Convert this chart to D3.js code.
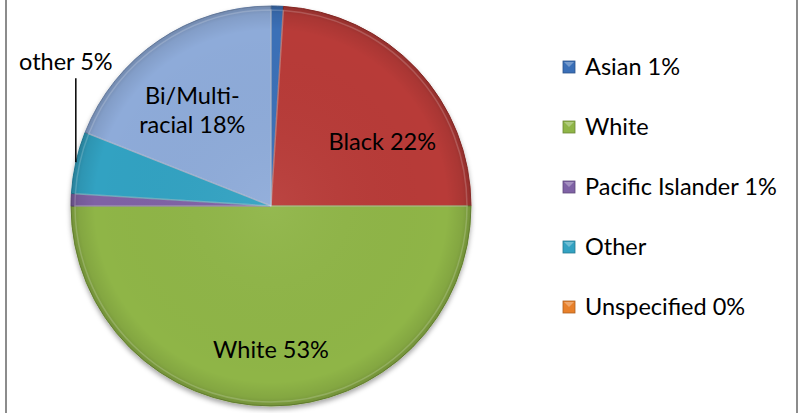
<html>
  <head>
    <script src="https://cdnjs.cloudflare.com/ajax/libs/d3/7.8.5/d3.min.js"></script>
  </head>
  <body>
    <svg id="pie"></svg>

    <style>
      body {
        margin: 0;
        background: #fff;
      }
      #pie {
        display: block;
        font-family: 'Lato', 'Open Sans', sans-serif;
      }
    </style>

    <script>
      // Data, clockwise from 12 o'clock
      const categories = ['Asian', 'Black', 'White', 'Pacific Islander', 'Other', 'Unspecified', 'Bi/Multi-racial'];
      const values = [1, 24, 50, 1, 5, 0, 19];
      const colors = ['#3a6fb7', '#b83b37', '#8fb547', '#7f62a5', '#33a2c2', '#e8802a', '#8eabd9'];

      // Labels drawn on the slices (empty = none)
      const sliceLabels = [[], ['Black 22%'], ['White 53%'], [], ['other 5%'], [], ['Bi/Multi-', 'racial 18%']];
      // Legend entries (null = removed from legend)
      const legendLabels = ['Asian 1%', null, 'White', 'Pacific Islander 1%', 'Other', 'Unspecified 0%', null];

      const width = 798, height = 413;
      const cx = 271, cy = 206, radius = 200;
      const fontSize = 23.5;

      const svg = d3.select('#pie')
        .attr('width', width)
        .attr('height', height);

      // chart area border (only the sides show)
      svg.append('line').attr('x1', 6).attr('x2', 6).attr('y1', 0).attr('y2', height)
        .style('stroke', '#8c8c8c').style('stroke-width', 2);
      svg.append('line').attr('x1', 797).attr('x2', 797).attr('y1', 0).attr('y2', height)
        .style('stroke', '#8c8c8c').style('stroke-width', 2);

      const defs = svg.append('defs');

      const shadow = defs.append('filter').attr('id', 'shadow')
        .attr('x', '-10%').attr('y', '-10%').attr('width', '120%').attr('height', '120%');
      shadow.append('feDropShadow')
        .attr('dx', 0).attr('dy', 3).attr('stdDeviation', 2.5)
        .attr('flood-color', '#000').attr('flood-opacity', 0.35);

      // rim shading to imitate the bevel (chart-centred coords)
      const rim = defs.append('radialGradient').attr('id', 'rim')
        .attr('gradientUnits', 'userSpaceOnUse')
        .attr('cx', 0).attr('cy', 0).attr('r', radius);
      rim.append('stop').attr('offset', '0%').attr('stop-color', '#fff').attr('stop-opacity', 0.05);
      rim.append('stop').attr('offset', '88%').attr('stop-color', '#000').attr('stop-opacity', 0);
      rim.append('stop').attr('offset', '96%').attr('stop-color', '#000').attr('stop-opacity', 0.08);
      rim.append('stop').attr('offset', '100%').attr('stop-color', '#000').attr('stop-opacity', 0.2);

      const data = categories.map((c, i) => ({
        name: c,
        value: values[i],
        color: colors[i],
        label: sliceLabels[i],
        legend: legendLabels[i]
      }));

      const pie = d3.pie()
        .sort(null)
        .value(d => d.value);

      const arc = d3.arc()
        .innerRadius(0)
        .outerRadius(radius);

      const arcs = pie(data).filter(d => d.value > 0);

      const g = svg.append('g')
        .attr('transform', 'translate(' + cx + ',' + cy + ')');

      const slices = g.append('g').attr('filter', 'url(#shadow)');

      slices.selectAll('path.slice')
        .data(arcs)
        .enter().append('path')
        .attr('class', 'slice')
        .attr('d', arc)
        .style('fill', d => d.data.color)
        .style('stroke', d => d3.color(d.data.color).darker(0.6))
        .style('stroke-width', 1);

      // overlay for the bevelled look
      g.append('g').selectAll('path')
        .data(arcs)
        .enter().append('path')
        .attr('d', arc)
        .style('fill', 'url(#rim)');

      // inner highlight along the slice edges
      const innerArc = d3.arc().innerRadius(0).outerRadius(radius - 4);
      g.append('g').selectAll('path')
        .data(arcs)
        .enter().append('path')
        .attr('d', innerArc)
        .style('fill', 'none')
        .style('stroke', '#fff')
        .style('stroke-opacity', 0.18)
        .style('stroke-width', 1.5);

      // labels
      const labelLayout = {
        'Black': { r: 0.64, nudge: [18, 24] },
        'White': { r: 0.72, nudge: [0, 0] },
        'Bi/Multi-racial': { r: 0.62, nudge: [-9, 7] }
      };

      arcs.forEach(d => {
        if (!d.data.label.length) return;
        const mid = (d.startAngle + d.endAngle) / 2;

        if (d.data.name === 'Other') {
          // outside label with a leader line going straight up
          const ex = Math.sin(mid) * radius, ey = -Math.cos(mid) * radius;
          g.append('line')
            .attr('x1', ex).attr('y1', ey)
            .attr('x2', ex).attr('y2', ey - 84)
            .style('stroke', '#000').style('stroke-width', 1.5);
          g.append('text')
            .attr('x', ex - 10).attr('y', ey - 92)
            .attr('text-anchor', 'middle')
            .style('font-size', fontSize + 'px')
            .style('fill', '#000')
            .text(d.data.label[0]);
          return;
        }

        const lay = labelLayout[d.data.name];
        const r = radius * lay.r;
        const x = Math.sin(mid) * r + lay.nudge[0];
        const y = -Math.cos(mid) * r + lay.nudge[1];
        const lines = d.data.label;
        const t = g.append('text')
          .attr('text-anchor', 'middle')
          .style('font-size', fontSize + 'px')
          .style('fill', '#000');
        lines.forEach((l, i) => {
          t.append('tspan')
            .attr('x', x)
            .attr('y', y + (i - (lines.length - 1) / 2) * 29 + 8)
            .text(l);
        });
      });

      // legend
      const legendData = data.filter(d => d.legend !== null);
      const legend = svg.append('g')
        .attr('transform', 'translate(563,61)');

      const rows = legend.selectAll('g.row')
        .data(legendData)
        .enter().append('g')
        .attr('class', 'row')
        .attr('transform', (d, i) => 'translate(0,' + i * 60 + ')');

      rows.append('rect')
        .attr('width', 12).attr('height', 12)
        .style('fill', d => d.color)
        .style('stroke', d => d3.color(d.color).darker(0.8))
        .style('stroke-width', 0.8);

      rows.append('path')
        .attr('d', 'M1,1 L11,1 L6,6 Z')
        .style('fill', '#fff')
        .style('fill-opacity', 0.3);

      rows.append('text')
        .attr('x', 22)
        .attr('y', 14)
        .style('font-size', fontSize + 'px')
        .style('fill', '#000')
        .text(d => d.legend);
    </script>
  </body>
</html>
